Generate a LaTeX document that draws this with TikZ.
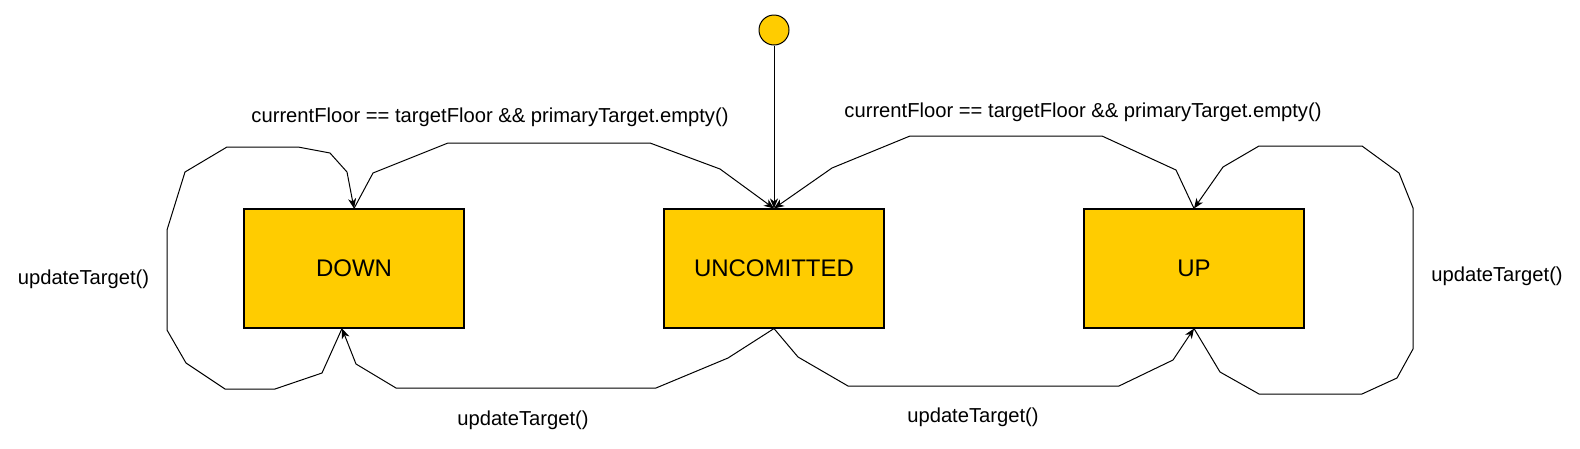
\documentclass[tikz,border=0pt]{standalone}
\usepackage{fontspec}
\setmainfont{Liberation Sans}
\usepackage{xcolor}
\usepackage{tikz}
\usetikzlibrary{positioning}
\usetikzlibrary{arrows.meta}
\definecolor{stateyellow}{HTML}{FFCC00}
\tikzset{
  state/.style={draw=black, line width=1.1pt, fill=stateyellow, rectangle,
    minimum width=220pt, minimum height=119pt, inner sep=0pt,
    font=\fontsize{24}{26}\selectfont},
  initstate/.style={draw=black, line width=1pt, fill=stateyellow, circle,
    minimum size=30pt, inner sep=0pt},
  trans/.style={draw=black, line width=1pt, line join=miter,
    -{Stealth[length=10pt,width=8pt,inset=3pt]}},
  guard/.style={font=\fontsize{20.2}{22}\selectfont, inner sep=0pt}
}

\begin{document}
\begin{tikzpicture}[x=1pt,y=-1pt]
            \useasboundingbox (0,0) rectangle (1580,448);
            % States
            \node[initstate] (init) at (774,30) {};
            \node[state] (down) at (354,268.5) {DOWN};
            \node[state] (uncom) at (774,268.5) {UNCOMITTED};
            \node[state] (up) at (1194,268.5) {UP};
            % Initial transition
            \draw[trans] (init) -- (uncom.north);
            % Back to uncommitted
            \draw[trans] (down.north) -- (373,173) -- (448,143) -- (650,143) -- (720,169) -- (uncom.north);
            \draw[trans] (up.north) -- (1176,170) -- (1102,136) -- (910,136) -- (832,168) -- (uncom.north);
            \node[guard] (gdown) at (490,117) {currentFloor == targetFloor \&\& primaryTarget.empty()};
            \node[guard] (gup) at (1083,112) {currentFloor == targetFloor \&\& primaryTarget.empty()};
            % Leaving uncommitted
            \draw[trans] (uncom.south) -- (728,358) -- (656,388) -- (396,388) -- (356,364) -- ([xshift=-12pt]down.south);
            \draw[trans] (uncom.south) -- (798,357) -- (848,386) -- (1119,386) -- (1173,360) -- (up.south);
            \node[guard] (udown) at (523,420) {updateTarget()};
            \node[guard] (uup) at (973,417) {updateTarget()};
            % Self loops
            \draw[trans] ([xshift=-12pt]down.south) -- (322,373) -- (275,389) -- (225,389) -- (186,363) -- (167,330)
              -- (167,230) -- (185,172) -- (227,147) -- (298,147) -- (330,153) -- (347,172) -- (down.north);
            \draw[trans] (up.south) -- (1220,372) -- (1259,394) -- (1362,394) -- (1397,378) -- (1413,349)
              -- (1413,208) -- (1399,173) -- (1362,146) -- (1259,146) -- (1223,167) -- (up.north);
            \node[guard] (lloop) at (83.5,279) {updateTarget()};
            \node[guard] (rloop) at (1497,276) {updateTarget()};
\end{tikzpicture}
\end{document}
